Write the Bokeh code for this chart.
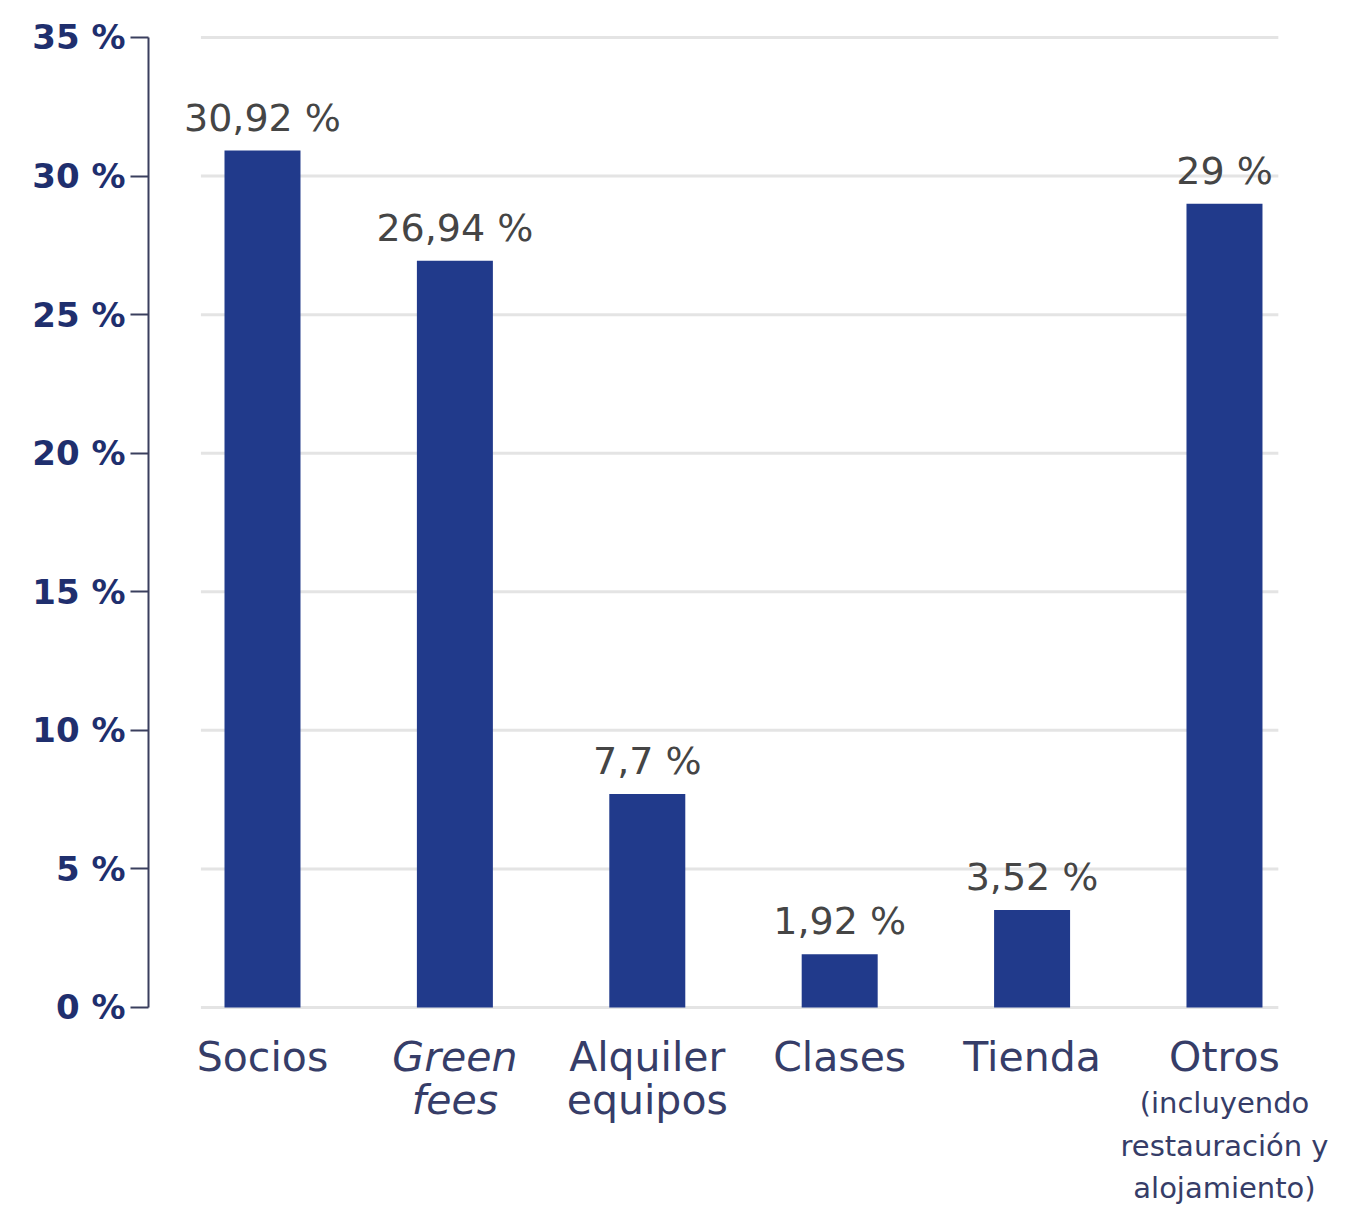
from bokeh.plotting import figure
from bokeh.models import ColumnDataSource, Range1d, FixedTicker
from bokeh.core.properties import value
from bokeh.embed import file_html
from bokeh.resources import INLINE

# ---- data ----
categories = ["Socios", "Green fees", "Alquiler equipos", "Clases", "Tienda", "Otros"]
label_line1 = ["Socios", "Green", "Alquiler", "Clases", "Tienda", "Otros"]
label_line2 = ["", "fees", "equipos", "", "", ""]
italic_categories = ["Green fees"]
otros_note = ["(incluyendo", "restauración y", "alojamiento)"]
values = [30.92, 26.94, 7.7, 1.92, 3.52, 29.0]
value_labels = ["30,92 %", "26,94 %", "7,7 %", "1,92 %", "3,52 %", "29 %"]
y_ticks = [0, 5, 10, 15, 20, 25, 30, 35]
y_tick_labels = ["0 %", "5 %", "10 %", "15 %", "20 %", "25 %", "30 %", "35 %"]

FONT = "DejaVu Sans"
BAR = "#213a8b"
NAVY = "#1f2f6e"
LABEL = "#363d68"
VALTXT = "#454545"

n = len(categories)
xs = list(range(n))

p = figure(
    frame_width=1202, frame_height=1199,
    x_range=Range1d(-0.5925, n - 1 + 0.655),
    y_range=Range1d(-7.217, 36.046),
    output_backend="svg", toolbar_location=None,
    min_border_left=148, min_border_right=0, min_border_top=8, min_border_bottom=0,
)
p.outline_line_color = None
p.xgrid.visible = False
p.ygrid.visible = False
p.xaxis.visible = False

# grid lines (not spanning the full frame)
p.segment(x0=[-0.32] * len(y_ticks), x1=[n - 1 + 0.28] * len(y_ticks),
          y0=y_ticks, y1=y_ticks, line_color="#e4e4e4", line_width=3)

src = ColumnDataSource(dict(
    x=xs, top=values, vlab=value_labels,
    l1=label_line1, l2=label_line2,
    style=["italic" if c in italic_categories else "normal" for c in categories],
))

p.vbar(x="x", top="top", bottom=0, width=0.395, source=src,
       fill_color=BAR, line_color=None)

# value labels
p.text(x="x", y="top", text="vlab", source=src, y_offset=-33,
       text_align="center", text_baseline="middle",
       text_font=value(FONT), text_font_size="38px", text_color=VALTXT)

# category labels
p.text(x="x", y=0, text="l1", source=src, y_offset=50,
       text_align="center", text_baseline="middle", text_font_style="style",
       text_font=value(FONT), text_font_size="41px", text_color=LABEL)
p.text(x="x", y=0, text="l2", source=src, y_offset=93,
       text_align="center", text_baseline="middle", text_font_style="style",
       text_font=value(FONT), text_font_size="41px", text_color=LABEL)

# note under "Otros"
note_src = ColumnDataSource(dict(
    x=[n - 1] * len(otros_note), y=[0] * len(otros_note), t=otros_note,
    off=[96 + 42.5 * i for i in range(len(otros_note))],
))
p.text(x="x", y="y", text="t", source=note_src, y_offset="off",
       text_align="center", text_baseline="middle",
       text_font=value(FONT), text_font_size="29px", text_color=LABEL)

ax = p.yaxis[0]
ax.bounds = (0, 35)
ax.ticker = FixedTicker(ticks=y_ticks)
ax.major_label_overrides = {t: l for t, l in zip(y_ticks, y_tick_labels)}
ax.major_tick_out = 18
ax.major_tick_in = 0
ax.minor_tick_line_color = None
ax.axis_line_color = "#3a3f5e"
ax.axis_line_width = 2
ax.major_tick_line_color = "#3a3f5e"
ax.major_tick_line_width = 2
ax.major_label_standoff = 5
ax.major_label_text_font = FONT
ax.major_label_text_font_style = "bold"
ax.major_label_text_font_size = "34px"
ax.major_label_text_color = NAVY

open("out.html", "w").write(file_html(p, INLINE))
